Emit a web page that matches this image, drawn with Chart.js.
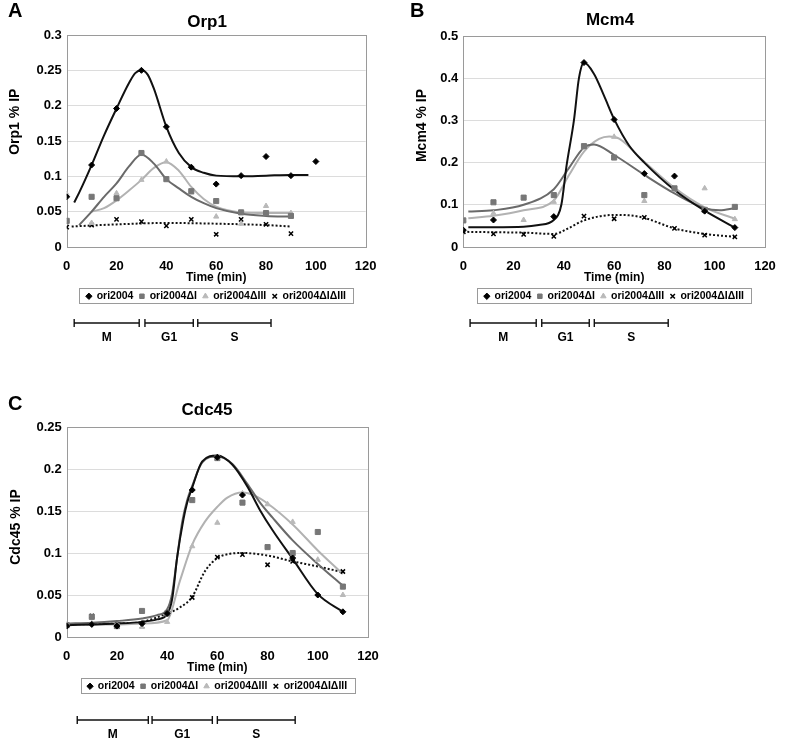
<!DOCTYPE html>
<html>
<head>
<meta charset="utf-8">
<script src="https://cdn.jsdelivr.net/npm/chart.js@4.4.1/dist/chart.umd.min.js"></script>
<style>
  html, body { margin: 0; padding: 0; background: #fff; overflow: hidden; width: 800px; height: 740px; }
  canvas { position: absolute; }
</style>
</head>
<body>
<canvas id="orp1" width="400" height="350" style="left:0;top:0"></canvas>
<canvas id="mcm4" width="400" height="350" style="left:400px;top:0"></canvas>
<canvas id="cdc45" width="400" height="350" style="left:0;top:390px"></canvas>
<script>
// series names (legend)
var seriesNames = ["ori2004", "ori2004ΔI", "ori2004ΔIII", "ori2004ΔIΔIII"];
var phaseNames = ["M", "G1", "S"];

// A - Orp1
var orpTime = [0, 10, 20, 30, 40, 50, 60, 70, 80, 90, 100];
var orpWt = [0.071, 0.116, 0.196, 0.250, 0.170, 0.113, 0.089, 0.101, 0.128, 0.101, 0.121];
var orpDI = [0.037, 0.071, 0.069, 0.133, 0.096, 0.079, 0.065, 0.049, 0.048, 0.044, null];
var orpDIII = [0.075, 0.034, 0.076, 0.095, 0.121, 0.077, 0.043, 0.033, 0.058, 0.048, null];
var orpDIDIII = [0.028, 0.031, 0.039, 0.036, 0.030, 0.039, 0.018, 0.039, 0.032, 0.019, null];
// trend lines
var orpFitWtT = [3, 5, 10, 15, 20, 25, 27.5, 30, 32.5, 35, 40, 45, 50, 55, 60, 70, 80, 90, 97];
var orpFitWt = [0.063, 0.077, 0.116, 0.158, 0.196, 0.232, 0.246, 0.250, 0.244, 0.224, 0.170, 0.133, 0.113, 0.105, 0.101, 0.100, 0.101, 0.102, 0.102];
var orpFitDIT = [5, 10, 15, 20, 25, 30, 35, 40, 45, 50, 55, 60, 70, 80, 90];
var orpFitDI = [0.031, 0.050, 0.071, 0.090, 0.114, 0.131, 0.118, 0.096, 0.083, 0.071, 0.062, 0.055, 0.047, 0.044, 0.043];
var orpFitDIIIT = [10, 15, 20, 25, 30, 35, 40, 45, 50, 55, 60, 70, 80, 90];
var orpFitDIII = [0.050, 0.055, 0.066, 0.080, 0.095, 0.112, 0.120, 0.108, 0.085, 0.068, 0.057, 0.049, 0.048, 0.048];
var orpFitDIDIIIT = [2, 20, 40, 60, 80, 90];
var orpFitDIDIII = [0.029, 0.032, 0.034, 0.033, 0.031, 0.029];
var orpPhaseStart = [3, 31.4, 52.6];
var orpPhaseEnd = [29.1, 50.8, 82];

// B - Mcm4
var mcmTime = [0, 12, 24, 36, 48, 60, 72, 84, 96, 108];
var mcmWt = [0.040, 0.064, null, 0.072, 0.437, 0.302, 0.174, 0.168, 0.085, 0.046];
var mcmDI = [0.063, 0.106, 0.117, 0.123, 0.239, 0.212, 0.123, 0.139, 0.088, 0.095];
var mcmDIII = [0.064, 0.080, 0.064, 0.107, 0.236, 0.261, 0.109, 0.136, 0.139, 0.066];
var mcmDIDIII = [0.036, 0.031, 0.030, 0.025, 0.073, 0.067, 0.070, 0.044, 0.028, 0.024];
var mcmFitWtT = [2, 12, 24, 30, 36, 39, 41, 44, 46, 48, 52, 56, 60, 66, 72, 84, 96, 108];
var mcmFitWt = [0.047, 0.047, 0.048, 0.052, 0.064, 0.100, 0.190, 0.300, 0.400, 0.437, 0.410, 0.358, 0.303, 0.240, 0.200, 0.135, 0.086, 0.046];
var mcmFitDIT = [2, 12, 24, 36, 42, 48, 52, 60, 72, 84, 96, 102, 108];
var mcmFitDI = [0.084, 0.087, 0.100, 0.137, 0.187, 0.236, 0.243, 0.218, 0.171, 0.127, 0.092, 0.087, 0.092];
var mcmFitDIIIT = [2, 12, 24, 36, 42, 48, 54, 58, 62, 72, 84, 96, 108];
var mcmFitDIII = [0.068, 0.074, 0.087, 0.110, 0.170, 0.226, 0.256, 0.262, 0.257, 0.202, 0.140, 0.094, 0.067];
var mcmFitDIDIIIT = [0, 12, 24, 36, 42, 48, 60, 66, 72, 84, 96, 108];
var mcmFitDIDIII = [0.036, 0.035, 0.034, 0.031, 0.045, 0.063, 0.076, 0.075, 0.069, 0.044, 0.031, 0.024];
var mcmPhaseStart = [2.7, 31.2, 52.1];
var mcmPhaseEnd = [29, 50.1, 81.5];

// C - Cdc45
var cdcTime = [0, 10, 20, 30, 40, 50, 60, 70, 80, 90, 100, 110];
var cdcWt = [0.013, 0.015, 0.013, 0.016, 0.028, 0.175, 0.214, 0.169, null, 0.094, 0.050, 0.030];
var cdcDI = [0.014, 0.024, 0.013, 0.031, 0.028, 0.163, 0.213, 0.160, 0.107, 0.100, 0.125, 0.060];
var cdcDIII = [0.015, 0.016, 0.012, 0.012, 0.018, 0.108, 0.136, 0.171, 0.158, 0.137, 0.092, 0.050];
var cdcDIDIII = [0.014, 0.025, 0.014, 0.013, 0.028, 0.047, 0.095, 0.098, 0.086, 0.090, null, 0.078];
var cdcFitWtT = [0, 10, 20, 30, 36, 40, 42, 44, 46.5, 48, 50, 54, 60, 66, 72, 77, 82, 90, 100, 110];
var cdcFitWt = [0.014, 0.015, 0.016, 0.018, 0.021, 0.027, 0.045, 0.095, 0.140, 0.160, 0.178, 0.209, 0.216, 0.205, 0.179, 0.151, 0.127, 0.093, 0.051, 0.030];
var cdcFitDIT = [0, 10, 20, 30, 36, 40, 42, 44, 46, 48, 50, 54, 60, 66, 72, 77, 82, 90, 100, 110];
var cdcFitDI = [0.016, 0.017, 0.019, 0.022, 0.026, 0.033, 0.052, 0.095, 0.137, 0.163, 0.180, 0.208, 0.215, 0.206, 0.182, 0.160, 0.142, 0.115, 0.087, 0.061];
var cdcFitDIIIT = [0, 20, 30, 40, 45, 50, 55, 60, 64, 70, 75, 80, 90, 100, 110];
var cdcFitDIII = [0.015, 0.015, 0.016, 0.020, 0.066, 0.110, 0.137, 0.155, 0.166, 0.172, 0.168, 0.159, 0.134, 0.103, 0.075];
var cdcFitDIDIIIT = [0, 20, 30, 40, 45, 50, 55, 60, 65, 70, 80, 90, 100, 110];
var cdcFitDIDIII = [0.015, 0.016, 0.018, 0.028, 0.035, 0.048, 0.078, 0.094, 0.099, 0.100, 0.097, 0.090, 0.084, 0.077];
var cdcPhaseStart = [4.2, 34, 60];
var cdcPhaseEnd = [32.5, 58, 91];

var FONT = "'Liberation Sans', Arial, Helvetica, sans-serif";
Chart.defaults.font.family = FONT;
Chart.defaults.color = "#000";

var markerStyles = ["rectRot", "rect", "triangle", "crossRot"];
var markerSizes = [3, 3.6, 3, 3];
var markerColors = ["#000000", "#777777", "#b9b9b9", "#000000"];
var lineColors = ["#111111", "#6a6a6a", "#b2b2b2", "#111111"];

function pairs(xs, ys) {
  return xs.map(function (x, i) { return { x: x, y: ys[i] }; });
}

// frame, panel letter, titles, legend box and cell-cycle bars
var panelDecor = {
  id: "panelDecor",
  beforeDatasetsDraw: function (chart) {
    var a = chart.chartArea, ctx = chart.ctx;
    ctx.save();
    ctx.strokeStyle = "#9a9a9a";
    ctx.lineWidth = 1;
    ctx.strokeRect(Math.round(a.left) + 0.5, Math.round(a.top) + 0.5,
      Math.round(a.right - a.left), Math.round(a.bottom - a.top));
    ctx.restore();
  },
  afterDraw: function (chart, args, o) {
    var ctx = chart.ctx, xs = chart.scales.x;
    ctx.save();
    ctx.fillStyle = "#000";
    ctx.strokeStyle = "#000";

    ctx.font = "bold 20px " + FONT;
    ctx.textAlign = "left";
    ctx.textBaseline = "alphabetic";
    ctx.fillText(o.letter, o.letterX, o.letterY);

    ctx.textAlign = "center";
    ctx.textBaseline = "middle";
    ctx.font = "bold 17px " + FONT;
    ctx.fillText(o.title, o.titleX, o.titleY);

    ctx.save();
    ctx.translate(o.yTitleX, o.yTitleY);
    ctx.rotate(-Math.PI / 2);
    ctx.font = "bold 14px " + FONT;
    ctx.fillText(o.yTitle, 0, 0);
    ctx.restore();

    // legend frame
    var hb = chart.legend.legendHitBoxes;
    if (hb && hb.length) {
      var first = hb[0], last = hb[hb.length - 1];
      var cy = first.top + first.height / 2;
      ctx.strokeStyle = "#9a9a9a";
      ctx.lineWidth = 1;
      ctx.strokeRect(Math.round(first.left - 7) + 0.5, Math.round(cy - 8) + 0.5,
        Math.round(last.left + last.width - first.left + 14), 15);
    }

    // M / G1 / S bars
    ctx.strokeStyle = "#111";
    ctx.lineWidth = 1.4;
    ctx.font = "bold 12px " + FONT;
    o.phaseStart.forEach(function (s, i) {
      var x0 = xs.getPixelForValue(s), x1 = xs.getPixelForValue(o.phaseEnd[i]);
      ctx.beginPath();
      ctx.moveTo(x0, o.barY); ctx.lineTo(x1, o.barY);
      ctx.moveTo(x0, o.barY - 4); ctx.lineTo(x0, o.barY + 4);
      ctx.moveTo(x1, o.barY - 4); ctx.lineTo(x1, o.barY + 4);
      ctx.stroke();
      ctx.fillText(phaseNames[i], (x0 + x1) / 2, o.labelY);
    });
    ctx.restore();
  }
};

function makeChart(id, time, values, fits, yMax, yStep, yWidth, padTop, padRight, decor) {
  var datasets = [];
  values.forEach(function (vals, i) {
    datasets.push({
      label: seriesNames[i],
      data: pairs(time, vals),
      showLine: false,
      pointStyle: markerStyles[i],
      pointRadius: markerSizes[i],
      backgroundColor: markerColors[i],
      borderColor: markerColors[i],
      borderWidth: i === 3 ? 1.5 : 1
    });
  });
  fits.forEach(function (f, i) {
    datasets.push({
      label: "",
      data: pairs(f[0], f[1]),
      showLine: true,
      pointRadius: 0,
      borderColor: lineColors[i],
      borderWidth: 2,
      borderDash: i === 3 ? [2, 2] : [],
      cubicInterpolationMode: "monotone",
      fill: false
    });
  });

  return new Chart(document.getElementById(id).getContext("2d"), {
    type: "scatter",
    data: { datasets: datasets },
    options: {
      responsive: false,
      animation: false,
      devicePixelRatio: 1,
      layout: { padding: { left: 0, right: padRight, top: padTop, bottom: 38.5 } },
      plugins: {
        title: { display: false },
        tooltip: { enabled: false },
        legend: {
          position: "bottom",
          fullSize: false,
          labels: {
            usePointStyle: true,
            boxWidth: 5,
            boxHeight: 4.5,
            padding: 6,
            color: "#000",
            font: { size: 10.5, weight: "bold" },
            filter: function (item) { return item.text !== ""; }
          }
        },
        panelDecor: decor
      },
      scales: {
        x: {
          type: "linear",
          min: 0,
          max: 120,
          ticks: { stepSize: 20, padding: 4, color: "#000", font: { size: 13, weight: "bold" } },
          grid: { display: false },
          border: { display: false },
          title: { display: true, text: "Time (min)", color: "#000", font: { size: 12, weight: "bold" }, padding: { top: 0, bottom: 0 } },
          afterFit: function (s) { s.height = 38; }
        },
        y: {
          min: 0,
          max: yMax,
          ticks: {
            stepSize: yStep,
            padding: 5,
            color: "#000",
            font: { size: 13, weight: "bold" },
            callback: function (v) { return String(+v.toFixed(2)); }
          },
          grid: { color: "#dcdcdc", drawTicks: false },
          border: { display: false },
          afterFit: function (s) { s.width = yWidth; }
        }
      }
    },
    plugins: [panelDecor]
  });
}

makeChart("orp1", orpTime, [orpWt, orpDI, orpDIII, orpDIDIII],
  [[orpFitWtT, orpFitWt], [orpFitDIT, orpFitDI], [orpFitDIIIT, orpFitDIII], [orpFitDIDIIIT, orpFitDIDIII]],
  0.3, 0.05, 66.7, 35, 34.3,
  { letter: "A", letterX: 8, letterY: 17, title: "Orp1", titleX: 207, titleY: 22.7,
    yTitle: "Orp1 % IP", yTitleX: 15, yTitleY: 121.7,
    phaseStart: orpPhaseStart, phaseEnd: orpPhaseEnd, barY: 323, labelY: 338 });

makeChart("mcm4", mcmTime, [mcmWt, mcmDI, mcmDIII, mcmDIDIII],
  [[mcmFitWtT, mcmFitWt], [mcmFitDIT, mcmFitDI], [mcmFitDIIIT, mcmFitDIII], [mcmFitDIDIIIT, mcmFitDIDIII]],
  0.5, 0.1, 63.3, 36, 35,
  { letter: "B", letterX: 10, letterY: 17, title: "Mcm4", titleX: 210, titleY: 20.5,
    yTitle: "Mcm4 % IP", yTitleX: 21.7, yTitleY: 125.5,
    phaseStart: mcmPhaseStart, phaseEnd: mcmPhaseEnd, barY: 323, labelY: 338 });

makeChart("cdc45", cdcTime, [cdcWt, cdcDI, cdcDIII, cdcDIDIII],
  [[cdcFitWtT, cdcFitWt], [cdcFitDIT, cdcFitDI], [cdcFitDIIIT, cdcFitDIII], [cdcFitDIDIIIT, cdcFitDIDIII]],
  0.25, 0.05, 66.7, 37, 32,
  { letter: "C", letterX: 8, letterY: 20, title: "Cdc45", titleX: 207, titleY: 20,
    yTitle: "Cdc45 % IP", yTitleX: 15.7, yTitleY: 137,
    phaseStart: cdcPhaseStart, phaseEnd: cdcPhaseEnd, barY: 330, labelY: 345 });
</script>
</body>
</html>
